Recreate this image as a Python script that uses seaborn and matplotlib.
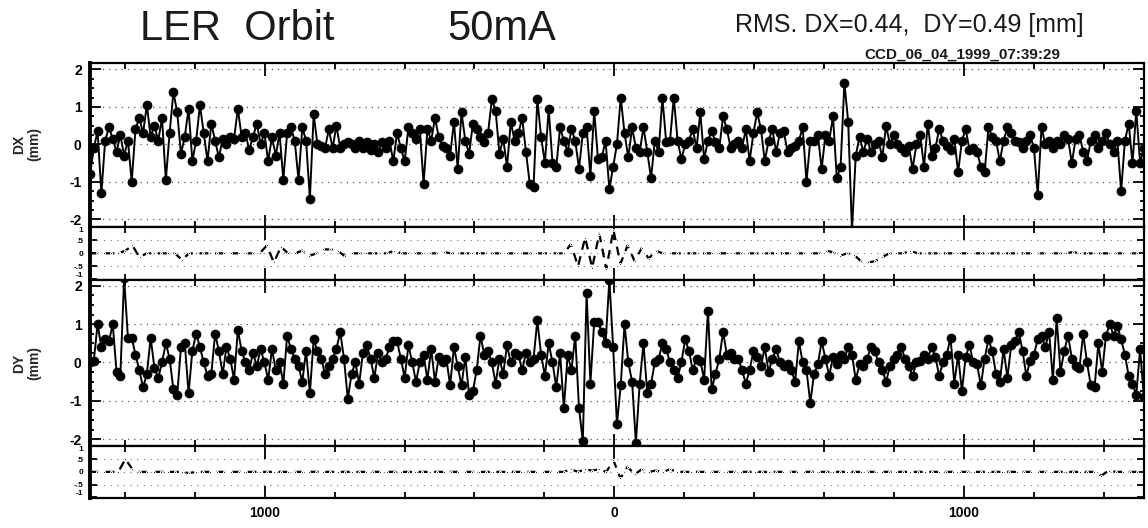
import numpy as np
import matplotlib
matplotlib.use("Agg")
import matplotlib.pyplot as plt
import seaborn as sns
from matplotlib.ticker import FixedLocator, MultipleLocator, FuncFormatter

# LER orbit, 50 mA (mm)
dx_mm = [
    # left arc
    -0.8, -0.1, 0.35, -1.3, 0.1, 0.45, 0.15, -0.2, 0.25, -0.3,
    0.1, -1.0, 0.4, 0.7, 0.3, 1.05, 0.2, 0.5, 0.1, 0.7,
    -0.95, 0.3, 1.4, 0.85, -0.25, 0.2, 0.95, -0.45, 0.1, 1.05,
    0.3, -0.45, 0.55, 0.1, -0.35, 0.15, 0.0, 0.2, 0.15, 0.95,
    0.2, 0.3, -0.15, 0.2, 0.55, 0.0, 0.3, -0.45, 0.2, -0.3,
    0.3, -0.95, 0.3, 0.45, 0.1, -0.95, 0.45, 0.1, -1.45, 0.8,
    0.0, -0.05, -0.1, 0.4, -0.1, 0.5, -0.1, 0.0, 0.05,
    # approaching IP
    0.0, -0.1, 0.1, -0.1, 0.05, -0.15, 0.0, -0.2, 0.05, -0.1, 0.1, -0.45,
    0.3, -0.1, -0.45, 0.45, 0.3, 0.15, 0.4, -1.05,
    0.4, 0.1, 0.7, 0.2, -0.05, -0.1, -0.3, 0.6, -0.65, 0.85,
    0.1, -0.25, 0.55, 0.4, 0.2, 0.05, 0.3, 1.2, 0.9, -0.25,
    0.15, -0.6, 0.6, 0.1, 0.3, 0.7, -0.2, -1.05, -1.15, 1.2,
    0.2, -0.5, 0.95, -0.5, -0.6, 0.45, 0.1, -0.2, 0.4, 0.1,
    -0.65, 0.3, 0.45, -0.85, 0.9, -0.4, -0.35, 0.1, -1.2, -0.6, 0.0,
    # after IP
    1.25, 0.3, -0.35, 0.45, -0.1, -0.2, 0.45, -0.2, -0.9, 0.1,
    -0.2, 1.25, 0.05, 0.1, 1.25, 0.1, -0.4, 0.0, 0.1, 0.4,
    -0.1, 0.85, -0.4, 0.1, 0.35, 0.05, -0.1, 0.75, 0.4, -0.1,
    0.0, 0.1, -0.1, 0.4, -0.45, 0.3, 0.85, 0.4, -0.45, 0.1,
    0.4, -0.2, 0.3, 0.35, -0.2, -0.1, -0.05, 0.1, 0.45, -1.0,
    0.1, 0.1, 0.25, -0.65, 0.25, 0.1, 0.75, -0.9, -0.6, 1.65,
    0.6, -2.3, -0.3, 0.2, -0.2, 0.15, -0.2, 0.0,
    # right arc
    0.1, -0.35, 0.5, 0.0, 0.25, 0.0, -0.1, -0.2, -0.05, -0.65,
    0.0, 0.25, -0.6, 0.55, -0.3, -0.1, 0.4, 0.1, -0.05, -0.15,
    0.15, -0.75, 0.1, 0.4, -0.15, -0.1, -0.2, -0.6, -0.75, 0.45,
    0.2, 0.1, -0.45, 0.1, 0.45, 0.3, 0.1, 0.05, -0.1, 0.1,
    0.25, -0.1, -1.35, 0.45, 0.0, 0.1, -0.1, 0.1, 0.0, 0.25,
    0.15, -0.5, 0.15, 0.25, -0.2, -0.45, 0.1, 0.25, -0.1, 0.1,
    0.3, 0.0, -0.2, 0.1, -1.25, 0.1, 0.55, -0.5, 0.9, -0.5, -0.1,
]

dy_mm = [
    0.0, 0.05, 1.0, 0.4, 0.6, 0.55, 1.0, -0.25, -0.35, 2.2,
    0.65, 0.65, 0.2, -0.2, -0.65, -0.3, 0.65, -0.15, -0.4, 0.0,
    0.5, 0.1, -0.7, -0.85, 0.4, 0.5, -0.8, 0.3, 0.75, 0.4,
    0.0, -0.35, -0.3, 0.75, 0.3, -0.3, 0.4, 0.1, -0.45, 0.85,
    0.3, 0.0, -0.2, 0.25, -0.1, 0.35, 0.0, -0.45, 0.35, -0.2,
    0.0, -0.55, 0.7, 0.35, 0.1, -0.1, -0.5, 0.3, -0.8, 0.6,
    0.3, 0.1, -0.3, -0.1, 0.1, 0.35, 0.8, 0.1, -0.95,
    -0.3, 0.0, -0.55, 0.25, 0.45, 0.1, -0.4, 0.25, 0.0, 0.1,
    0.4, 0.55, 0.55, 0.1, -0.4, 0.45, 0.0, -0.5, 0.0, 0.2,
    -0.45, 0.35, -0.5, 0.15, 0.0, 0.1, -0.6, 0.4, -0.1, -0.6,
    0.15, -0.85, -0.75, -0.2, 0.7, 0.2, 0.3, 0.0, -0.55, 0.1,
    -0.3, 0.45, 0.0, 0.25, 0.2, -0.2, 0.25, 0.0, 0.1, 1.1,
    0.2, -0.35, 0.5, 0.0, -0.65, 0.25, -1.2, 0.2, -0.2, 0.7,
    -1.2, -2.05, 1.8, -0.55, 1.05, 1.05, 0.8, 0.5, 2.15,
    0.4, -1.6, -0.6, 1.0, 0.0, -0.5, -2.1, -0.55, 0.5, -0.8,
    -0.55, 0.0, 0.1, 0.5, 0.35, 0.0, -0.2, -0.4, 0.0, 0.6,
    0.3, -0.2, 0.1, 0.05, -0.45, 1.35, -0.7, -0.3, 0.1, 0.8,
    0.2, 0.25, 0.1, 0.1, -0.2, -0.55, -0.2, 0.3, 0.15, -0.1,
    0.4, -0.25, 0.1, 0.35, 0.0, -0.1, -0.05, -0.2, -0.5, 0.55,
    0.0, -0.2, -1.05, -0.3, -0.05, 0.55, 0.1, -0.35, 0.15, -0.05,
    0.2, 0.1, 0.4, 0.2, -0.45, -0.05, -0.1, 0.1, 0.4, 0.3,
    0.0, -0.2, -0.5, -0.1, 0.1, 0.2, 0.4, 0.1, -0.1, -0.35,
    0.0, 0.05, 0.2, 0.1, 0.4, 0.15, -0.35, 0.0, 0.2,
    0.65, -0.55, 0.2, -0.75, 0.15, 0.45, 0.0, -0.05, -0.6, 0.1,
    0.6, 0.3, -0.3, -0.5, 0.35, -0.4, 0.45, 0.55, 0.8, 0.3,
    -0.35, 0.05, 0.2, 0.6, 0.7, 0.4, 0.8, -0.45, 1.15, -0.25,
    0.3, 0.7, 0.1, -0.1, -0.15, 0.75, 0.0, -0.6, -0.65, 0.5,
    -0.25, 0.7, 1.0, 0.7, 0.95, 0.6, 0.2, -0.35, -0.55, -0.85, 0.35, -0.9,
]

# difference traces in the thin panels (mm)
dx_diff = [
    0, 0, 0, 0, 0, 0.1, 0.3, -0.15, 0, 0,
    0, 0, 0, -0.25, 0, 0, 0, 0, 0, 0,
    0, 0, 0, 0, 0, 0.3, -0.35, 0.25, 0, 0,
    0.1, -0.1, 0, 0.15, 0.15, 0.1, -0.1, 0, 0, 0,
    0, 0, 0, 0.1, 0, 0, 0, 0, 0, 0,
    0.05, 0, 0, 0, 0, 0, 0, 0, 0, 0,
    0, 0, 0, 0, 0, 0, 0, 0, 0.35, -0.5,
    0.6, -0.55, 0.75, -0.6, 0.9, -0.4, 0.3, -0.3, 0.2, -0.2,
    0.1, 0, 0, 0, 0, 0, 0, 0, 0, 0,
    0, 0, 0, 0, 0, 0, 0, 0, 0, 0,
    0, 0, 0, 0, 0.1, 0.05, -0.1, 0, -0.05, -0.3,
    -0.35, -0.3, -0.15, 0, 0, 0, 0.1, 0, 0, 0,
    0, 0, 0, 0, 0, 0, 0, 0, 0, 0,
    0, 0, 0, 0, 0, 0, 0, 0, 0, 0.05,
    0, 0, 0, 0, 0, 0, 0, 0, 0, 0,
]

dy_diff = [
    0, 0, 0, 0, 0, 0.5, 0.1, 0, 0, 0,
    0, 0, 0, 0, -0.05, 0, 0, 0, 0, 0,
    0, 0, 0, 0, 0, 0, 0, 0, 0, 0,
    0, 0, 0, 0, 0, 0, 0, 0, 0, 0,
    0, 0, 0, 0, 0, 0, 0, 0, 0, 0,
    0, 0, 0, 0, 0, 0, 0, 0, 0, 0,
    0, 0, 0, 0, 0, 0, 0, 0, 0.1, 0,
    0.1, 0.05, 0.1, 0, 0.45, -0.25, 0.2, -0.1, 0.1, 0,
    0.05, 0, 0.1, 0, 0, 0, 0, 0, 0, 0,
    0, 0, 0, 0, 0, 0, 0, 0, 0, 0,
    0, 0, 0, 0, 0, 0, 0, 0, 0, 0,
    0, 0, 0, 0, 0, 0, 0, 0, 0, 0,
    0, 0, 0, 0, 0, 0, 0, 0, 0, 0,
    0, 0, 0, 0, 0, 0, 0, 0, 0, 0,
    0, 0, 0, -0.15, 0.05, 0, 0, 0, 0, 0,
]

s_min, s_max = -1500, 1515
main_ticks = [-2, -1, 0, 1, 2]
main_labels = ['-2', '-1', '0', '1', '2']
diff_ticks = [-1, -0.5, 0, 0.5, 1]
diff_labels = ['-1', '-.5', '0', '.5', '1']

sns.set_style("white")
plt.rcParams['font.family'] = ['Liberation Sans', 'DejaVu Sans']
plt.rcParams['axes.unicode_minus'] = False

fig = plt.figure(figsize=(11.48, 5.28), dpi=100)
left, width = 0.0784, 0.918
ax_dx = fig.add_axes([left, 0.5706, width, 0.310])
ax_d1 = fig.add_axes([left, 0.4697, width, 0.101])
ax_dy = fig.add_axes([left, 0.1559, width, 0.3138])
ax_d2 = fig.add_axes([left, 0.0568, width, 0.099])

s_main = np.linspace(s_min, s_max, len(dx_mm))
s_main_y = np.linspace(s_min, s_max, len(dy_mm))
s_diff = np.linspace(s_min, s_max, len(dx_diff))

for ax, s, vals in [(ax_dx, s_main, dx_mm), (ax_dy, s_main_y, dy_mm)]:
    sns.lineplot(x=s, y=vals, ax=ax, color='black', linewidth=1.4,
                 marker='o', markersize=6.5, markeredgecolor='black',
                 markeredgewidth=0.5)

for ax, vals in [(ax_d1, dx_diff), (ax_d2, dy_diff)]:
    sns.lineplot(x=s_diff, y=vals, ax=ax, color='black', linewidth=1.6,
                 linestyle=(0, (4, 3)), marker='.', markersize=3)

ax_dx.set_ylim(-2.2, 2.17)
ax_dy.set_ylim(-2.17, 2.15)
ax_d1.set_ylim(-1.02, 1.02)
ax_d2.set_ylim(-1.02, 1.02)

for ax in [ax_dx, ax_d1, ax_dy, ax_d2]:
    ax.set_xlim(s_min, s_max)
    ax.xaxis.set_major_locator(FixedLocator([-1000, 0, 1000]))
    ax.xaxis.set_minor_locator(MultipleLocator(200))
    ax.xaxis.set_major_formatter(FuncFormatter(lambda v, p: str(int(abs(v)))))
    ax.tick_params(axis='both', which='both', direction='in',
                   top=True, right=True, bottom=True, left=True,
                   colors='black', width=1.3)
    ax.tick_params(axis='x', which='major', length=9, labelbottom=False)
    ax.tick_params(axis='x', which='minor', length=4)
    ax.grid(axis='y', color='0.35', linestyle=(0, (1, 4)), linewidth=0.9)
    for side in ['top', 'right', 'bottom']:
        ax.spines[side].set_linewidth(1.6)
        ax.spines[side].set_color('black')
    ax.spines['left'].set_linewidth(2.8)
    ax.spines['left'].set_color('black')
    ax.set_xlabel('')
    ax.set_ylabel('')

for ax in [ax_dx, ax_dy]:
    ax.set_yticks(main_ticks)
    ax.set_yticklabels(main_labels, fontsize=10, fontweight='bold')
    ax.yaxis.set_minor_locator(MultipleLocator(0.25))
    ax.tick_params(axis='y', which='major', length=8, pad=6)
    ax.tick_params(axis='y', which='minor', length=3)

for ax in [ax_d1, ax_d2]:
    ax.set_yticks(diff_ticks)
    ax.set_yticklabels(diff_labels, fontsize=6, fontweight='bold')
    ax.tick_params(axis='y', which='major', length=5, pad=5)
    ax.grid(axis='y', color='0.45', linestyle=(0, (1, 5)), linewidth=0.8)
    labs = ax.get_yticklabels()
    labs[0].set_va('bottom')
    labs[-1].set_va('top')

ax_d2.tick_params(axis='x', which='major', labelbottom=True, pad=6)
for lab in ax_d2.get_xticklabels():
    lab.set_fontsize(10)
    lab.set_fontweight('bold')

# titles and axis captions
fig.text(140 / 1148, 1 - 29 / 528, 'LER  Orbit', fontsize=30, ha='left', va='center',
         color='0.1')
fig.text(447 / 1148, 1 - 29 / 528, '50mA', fontsize=30, ha='left', va='center',
         color='0.1')
fig.text(735 / 1148, 1 - 25 / 528, 'RMS. DX=0.44,  DY=0.49 [mm]', fontsize=18,
         ha='left', va='center', color='0.1')
fig.text(962 / 1148, 1 - 55 / 528, 'CCD_06_04_1999_07:39:29', fontsize=11,
         fontweight='bold', ha='center', va='center', color='0.1')
fig.text(27 / 1148, 1 - 144 / 528, 'DX\n(mm)', rotation=90, fontsize=10,
         fontweight='bold', ha='center', va='center', linespacing=1.1)
fig.text(27 / 1148, 1 - 363 / 528, 'DY\n(mm)', rotation=90, fontsize=10,
         fontweight='bold', ha='center', va='center', linespacing=1.1)

fig.savefig('out.png', dpi=100, facecolor='white')
